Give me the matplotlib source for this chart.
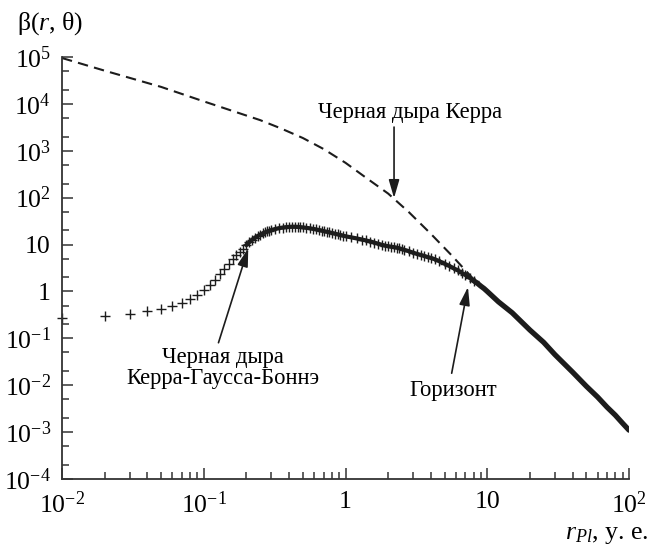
import matplotlib
matplotlib.use("Agg")
import matplotlib.pyplot as plt
from matplotlib.ticker import LogLocator, NullFormatter

plt.rcParams.update({
    "font.family": ["Liberation Serif", "DejaVu Serif"],
    "mathtext.fontset": "custom",
    "mathtext.rm": "Liberation Serif",
    "mathtext.it": "Liberation Serif:italic",
    "mathtext.bf": "Liberation Serif:bold",
    "font.size": 18,
})

# Kerr black hole (dashed)
kerr_r = [0.01, 0.02, 0.05, 0.1, 0.25, 0.35, 0.5, 0.7, 1.0, 1.4, 2.0, 2.8, 4.0, 5.6, 8.0,
          10.0, 12.0, 15.0, 20.0, 25.0, 30.0, 40.0, 50.0, 60.0, 70.0, 80.0, 90.0, 100.0]
kerr_beta = [9.5e4, 5.1e4, 2.3e4, 1.13e4, 4.5e3, 3.0e3, 1.87e3, 1.09e3, 553, 264, 122, 49, 16.9,
             5.9, 1.83,
             1.0, 0.6, 0.35, 0.15, 0.082, 0.045, 0.019, 9.5e-3, 5.6e-3, 3.4e-3, 2.3e-3, 1.55e-3, 1.1e-3]

# Kerr-Gauss-Bonnet black hole, sparse points at small r
kgb_r_low = [0.01, 0.02, 0.03, 0.04, 0.05, 0.06, 0.07, 0.08, 0.09, 0.10,
             0.11, 0.12, 0.13, 0.14, 0.15, 0.16, 0.17, 0.18, 0.19]
kgb_beta_low = [0.27, 0.30, 0.33, 0.38, 0.43, 0.49, 0.57, 0.68, 0.84, 1.05,
                1.35, 1.75, 2.35, 3.0, 3.8, 4.8, 6.0, 7.0, 8.2]

# Kerr-Gauss-Bonnet black hole, dense part
kgb_r_mid = [0.20, 0.21, 0.22, 0.23, 0.24, 0.25, 0.26, 0.27, 0.28, 0.29, 0.30, 0.32, 0.34, 0.36,
             0.38, 0.40, 0.42, 0.44, 0.46, 0.48, 0.50, 0.53, 0.56, 0.59, 0.62, 0.65, 0.68, 0.71,
             0.74, 0.77, 0.80, 0.84, 0.88, 0.92, 0.96, 1.0, 1.1, 1.2, 1.3, 1.4, 1.5, 1.6, 1.7,
             1.8, 1.9, 2.0, 2.1, 2.2, 2.3, 2.4, 2.5, 2.6, 2.8, 3.0, 3.2, 3.4, 3.6, 3.8, 4.0,
             4.3, 4.6, 5.0, 5.4, 5.8, 6.2, 6.6, 7.0, 7.5, 8.0]
kgb_beta_mid = [9.8, 11.3, 12.7, 14.0, 15.2, 16.2, 17.2, 18.1, 19.0, 19.7, 20.4, 21.5, 22.4, 23.0,
                23.5, 23.8, 24.0, 24.0, 23.8, 23.5, 23.2, 22.7, 22.2, 21.6, 21.0, 20.4, 19.8, 19.2,
                18.7, 18.2, 17.7, 17.1, 16.5, 16.0, 15.5, 15.0, 14.2, 13.5, 12.8, 12.2, 11.6, 11.0, 10.4,
                9.9, 9.5, 9.2, 9.0, 8.8, 8.6, 8.3, 8.0, 7.7, 7.2, 6.7, 6.3, 6.0, 5.7, 5.4, 5.2,
                4.8, 4.4, 3.9, 3.5, 3.1, 2.8, 2.5, 2.25, 1.95, 1.7]

# common tail beyond the horizon
kgb_r_tail = [8.0, 8.5, 9.0, 9.5, 10.0, 12.0, 15.0, 20.0, 25.0, 30.0, 40.0, 50.0, 60.0, 70.0,
              80.0, 90.0, 100.0]
kgb_beta_tail = [1.7, 1.5, 1.3, 1.15, 1.0, 0.6, 0.35, 0.15, 0.082, 0.045, 0.019, 9.5e-3, 5.6e-3,
                 3.4e-3, 2.3e-3, 1.55e-3, 1.1e-3]

x_ticks = [0.01, 0.1, 1, 10, 100]
x_labels = ['$10^{-2}$', '$10^{-1}$', '1', '10', '$10^{2}$']
y_ticks = [1e-4, 1e-3, 1e-2, 1e-1, 1, 10, 1e2, 1e3, 1e4, 1e5]
y_labels = ['$10^{-4}$', '$10^{-3}$', '$10^{-2}$', '$10^{-1}$', '1', '10',
            '$10^{2}$', '$10^{3}$', '$10^{4}$', '$10^{5}$']

ink = '#1c1c1c'

fig = plt.figure(figsize=(6.5, 5.51), dpi=100)
ax = fig.add_axes([0.0954, 0.1307, 0.8723, 0.7659])

ax.plot(kerr_r, kerr_beta, linestyle=(0, (5, 3)), color=ink, linewidth=1.5)
ax.plot(kgb_r_low, kgb_beta_low, linestyle='none', marker='+', markersize=7,
        markeredgewidth=1.0, color=ink, clip_on=False)
ax.plot(kgb_r_mid, kgb_beta_mid, linestyle='-', linewidth=3, marker='+', markersize=7,
        markeredgewidth=1.0, color=ink)
ax.plot(kgb_r_tail, kgb_beta_tail, linestyle='-', linewidth=3.8, solid_capstyle='round', color=ink)

ax.set_xscale('log')
ax.set_yscale('log')
ax.set_xlim(0.01, 100)
ax.set_ylim(1e-4, 1e5)

ax.spines['top'].set_visible(False)
ax.spines['right'].set_visible(False)
for s in ('left', 'bottom'):
    ax.spines[s].set_linewidth(1.3)
    ax.spines[s].set_color('#333333')

ax.set_xticks(x_ticks, x_labels)
ax.set_yticks(y_ticks, y_labels)
ax.xaxis.set_minor_locator(LogLocator(base=10, subs=range(2, 10), numticks=20))
ax.yaxis.set_minor_locator(LogLocator(base=10, subs=(2, 5), numticks=20))
ax.xaxis.set_minor_formatter(NullFormatter())
ax.yaxis.set_minor_formatter(NullFormatter())
ax.tick_params(which='both', direction='in', color='#333333', width=1.1, labelsize=18.5)
ax.tick_params(axis='y', which='major', length=8, pad=8)
ax.tick_params(axis='x', which='major', length=8, pad=9)
ax.tick_params(which='minor', length=5)

fig.text(0.026, 0.957, 'β($r$, θ)', fontsize=18.5, ha='left', va='center')
fig.text(0.997, 0.029, r'$r_{Pl}$, у. е.', fontsize=18.5, ha='right', va='center')

arrow = dict(arrowstyle='-|>,head_length=0.55,head_width=0.16', color=ink, lw=1.2,
             shrinkA=0, shrinkB=0, mutation_scale=20)

ax.text(2.85, 6700, 'Черная дыра Керра', fontsize=16.3, ha='center', va='center')
ax.annotate('', xy=(2.2, 98), xytext=(2.2, 3200), arrowprops=arrow)

ax.text(0.137, 0.0233, 'Черная дыра\nКерра-Гаусса-Боннэ', fontsize=16.3, ha='center',
        va='center', multialignment='center', linespacing=1.05)
ax.annotate('', xy=(0.206, 8.3), xytext=(0.127, 0.0805), arrowprops=arrow)

ax.text(5.73, 7.9e-3, 'Горизонт', fontsize=16.3, ha='center', va='center')
ax.annotate('', xy=(7.31, 1.24), xytext=(5.61, 0.018), arrowprops=arrow)

fig.savefig('out.png', dpi=100)
